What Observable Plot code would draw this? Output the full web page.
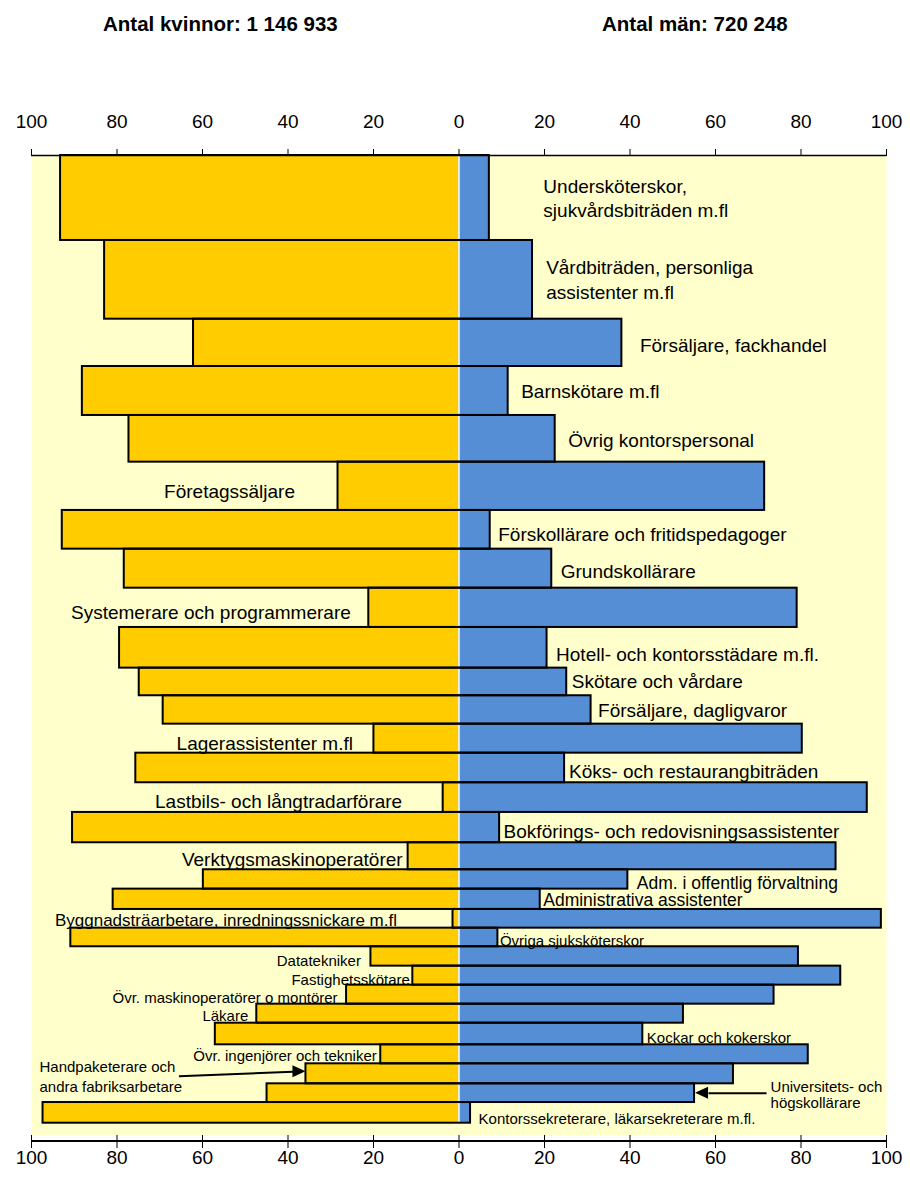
<!DOCTYPE html>
<html>
<head>
<meta charset="utf-8">
<script src="https://cdn.jsdelivr.net/npm/d3@7"></script>
<script src="https://cdn.jsdelivr.net/npm/@observablehq/plot@0.6"></script>
<style>
  body { margin: 0; background: #fff; font-family: "Liberation Sans", Arial, sans-serif; }
  #wrap { position: relative; width: 910px; height: 1185px; }
  #wrap svg { position: absolute; left: 0; top: 0; }
  .title { position: absolute; top: 12px; font-weight: bold; font-size: 20.5px; white-space: nowrap; color: #000; }
</style>
</head>
<body>
<div id="wrap">
  <div class="title" id="tw" style="left:103px"></div>
  <div class="title" id="tm" style="left:602px"></div>
</div>
<script>
// ---- data ----
const titleWomen = "Antal kvinnor: 1 146 933";
const titleMen = "Antal män: 720 248";

const occupations = [
  "Undersköterskor,\nsjukvårdsbiträden m.fl",
  "Vårdbiträden, personliga\nassistenter m.fl",
  "Försäljare, fackhandel",
  "Barnskötare m.fl",
  "Övrig kontorspersonal",
  "Företagssäljare",
  "Förskollärare och fritidspedagoger",
  "Grundskollärare",
  "Systemerare och programmerare",
  "Hotell- och kontorsstädare m.fl.",
  "Skötare och vårdare",
  "Försäljare, dagligvaror",
  "Lagerassistenter m.fl",
  "Köks- och restaurangbiträden",
  "Lastbils- och långtradarförare",
  "Bokförings- och redovisningsassistenter",
  "Verktygsmaskinoperatörer",
  "Adm. i offentlig förvaltning",
  "Administrativa assistenter",
  "Byggnadsträarbetare, inredningssnickare m.fl",
  "Övriga sjuksköterskor",
  "Datatekniker",
  "Fastighetsskötare",
  "Övr. maskinoperatörer o montörer",
  "Läkare",
  "Kockar och kokerskor",
  "Övr. ingenjörer och tekniker",
  "Handpaketerare och\nandra fabriksarbetare",
  "Universitets- och\nhögskollärare",
  "Kontorssekreterare, läkarsekreterare m.fl."
];

// number employed (thousands) – sets bar thickness
const employed = [164.0, 151.9, 91.3, 94.5, 90.1, 93.2, 74.7, 75.3, 75.8, 78.5,
                  53.3, 54.8, 56.0, 57.1, 57.3, 58.5, 52.1, 37.4, 39.2, 36.1,
                  35.9, 37.4, 36.7, 36.7, 36.7, 41.7, 36.7, 38.6, 36.1, 39.9];

// share of women / men, percent
const womenPct = [93.2, 82.9, 62.1, 88.1, 77.2, 28.3, 92.8, 78.3, 21.1, 79.4,
                  74.8, 69.2, 19.9, 75.6, 3.7, 90.4, 11.9, 59.8, 80.9, 1.4,
                  90.8, 20.6, 10.8, 26.3, 47.3, 57.0, 18.3, 35.8, 44.9, 97.3];
const menPct   = [7.1, 17.2, 38.1, 11.5, 22.5, 71.5, 7.3, 21.7, 79.1, 20.6,
                  25.2, 30.9, 80.3, 24.7, 95.5, 9.5, 88.2, 39.5, 19.0, 98.8,
                  9.1, 79.4, 89.3, 73.7, 52.5, 43.0, 81.7, 64.2, 55.1, 2.7];

const axisTicks = [-100, -80, -60, -40, -20, 0, 20, 40, 60, 80, 100];

// ---- build rows ----
let acc = 0;
const rows = occupations.map((name, i) => {
  const y1 = acc; acc += employed[i];
  return {i, name, y1, y2: acc, w: womenPct[i], m: menPct[i]};
});
const total = acc;

document.getElementById("tw").textContent = titleWomen;
document.getElementById("tm").textContent = titleMen;

// ---- layout helpers (pixels) ----
const xRange = [31, 886], yRange = [155, 1122.7];
const pxX = (d3.max(axisTicks) - d3.min(axisTicks)) / (xRange[1] - xRange[0]);
const pxY = total / (yRange[1] - yRange[0]);
const annotated = new Set([27, 28]);
rows.forEach(d => d.side = d.w < d.m ? "L" : "R");
const gapPx = {0:54, 1:13.6, 2:18, 3:13, 4:13, 5:43, 6:8, 7:9, 8:18, 9:9, 10:5, 11:7, 12:21,
               13:4.5, 14:41, 15:4, 16:5.5, 17:9, 18:3, 19:56, 20:2, 21:10, 22:3, 23:9,
               24:8.5, 25:4, 26:4, 29:8};
const shiftPx = {0:-1, 1:-1, 2:1, 3:-1, 4:0, 5:3.5, 6:3.5, 7:1, 8:3.3, 9:5, 10:-1.5, 11:-1,
                 12:3.5, 17:2, 18:-1, 19:0.5, 20:2, 21:3, 22:3, 23:2, 24:1, 25:3, 26:0.5, 29:5};
const gap = i => gapPx[i] ?? 5;
const shift = i => shiftPx[i] ?? 2;
const tier = i => i <= 16 ? 19 : (i <= 18 ? 17.5 : (i === 19 ? 17 : 15));
const mid = d => (d.y1 + d.y2) / 2;

function labelMarks(side) {
  const sel = rows.filter(d => d.side === side && !annotated.has(d.i));
  return Array.from(d3.group(sel, d => tier(d.i)), ([fs, arr]) => Plot.text(arr, {
    x: d => side === "R" ? d.m + gap(d.i) * pxX : -d.w - gap(d.i) * pxX,
    y: d => mid(d) + shift(d.i) * pxY,
    text: "name",
    textAnchor: side === "R" ? "start" : "end",
    fontSize: fs,
    lineHeight: 1.3,
    fill: "black"
  }));
}

const hand = rows[27], univ = rows[28];
const head = 13; // arrow head length, px

// arrow geometry (data units) derived from the bars
const handArrow = {x1: -hand.w - 127 * pxX, y1: mid(hand) + 2.5 * pxY, x2: -hand.w, y2: mid(hand) - 2 * pxY};
const univArrow = {x1: univ.m + 72 * pxX, y1: mid(univ), x2: univ.m + 1 * pxX, y2: mid(univ)};

const chart = Plot.plot({
  width: 910,
  height: 1185,
  marginTop: 155,
  marginBottom: 50,
  marginLeft: 31,
  marginRight: 24,
  style: {fontFamily: '"Liberation Sans", Arial, sans-serif', fontSize: "19px", background: "transparent", overflow: "visible", color: "black"},
  x: {domain: [d3.min(axisTicks), d3.max(axisTicks)], range: xRange, axis: null},
  y: {domain: [0, total], range: yRange, axis: null},
  marks: [
    Plot.frame({fill: "#FFFFCC", stroke: "none"}),
    Plot.rect(rows, {x1: d => -d.w, x2: d => 0, y1: "y1", y2: "y2", fill: "#FFCC00"}),
    Plot.rect(rows, {x1: d => 0, x2: "m", y1: "y1", y2: "y2", fill: "#558ED5"}),
    Plot.ruleX([0], {y1: 0, y2: total, stroke: "white", strokeWidth: 1.5}),
    Plot.rect(rows, {x1: d => -d.w, x2: "m", y1: "y1", y2: "y2", fill: "none", stroke: "black", strokeWidth: 2}),
    Plot.ruleY([0], {x1: d3.min(axisTicks), x2: d3.max(axisTicks), stroke: "black", strokeWidth: 1.5}),
    Plot.axisX(axisTicks, {anchor: "top", tickSize: 7, tickPadding: 21, tickFormat: d => Math.abs(d), label: null, fontSize: 19}),
    Plot.axisX(axisTicks, {anchor: "bottom", tickSize: 13, tickPadding: 2, tickFormat: d => Math.abs(d), label: null, fontSize: 19}),
    ...labelMarks("R"),
    ...labelMarks("L"),
    // annotation: Handpaketerare (shaft stops at head base)
    Plot.link([handArrow], {
      x1: "x1", y1: "y1",
      x2: d => d.x2 - head * pxX, y2: "y2",
      stroke: "black", strokeWidth: 2
    }),
    Plot.text([hand], {
      x: d3.min(axisTicks), y: d => mid(d) + 2 * pxY, dx: 8, text: "name",
      textAnchor: "start", fontSize: 15, lineHeight: 1.33, fill: "black"
    }),
    // annotation: Universitets
    Plot.link([univArrow], {
      x1: "x1", y1: "y1",
      x2: d => d.x2 + head * pxX, y2: "y2",
      stroke: "black", strokeWidth: 2
    }),
    Plot.text([univ], {
      x: d => d.m + 72 * pxX, y: d => mid(d) + 2 * pxY, dx: 4, text: "name",
      textAnchor: "start", fontSize: 15, lineHeight: 1.07, fill: "black"
    })
  ]
});

const sx = chart.scale("x"), sy = chart.scale("y");
const svg = d3.select(chart);

// bottom axis line
svg.append("line")
  .attr("x1", sx.apply(d3.min(axisTicks))).attr("x2", sx.apply(d3.max(axisTicks)))
  .attr("y1", 1185 - 50 + 6).attr("y2", 1185 - 50 + 6)
  .attr("stroke", "black").attr("stroke-width", 2);

// filled arrow heads
function arrowHead(a, dir) {
  const tx = sx.apply(a.x2), ty = sy.apply(a.y2);
  const bx = tx - dir * head;
  svg.append("polygon")
    .attr("points", `${tx},${ty} ${bx},${ty - 6} ${bx},${ty + 6}`)
    .attr("fill", "black");
}
arrowHead(handArrow, 1);
arrowHead(univArrow, -1);

document.getElementById("wrap").prepend(chart);
</script>
</body>
</html>
